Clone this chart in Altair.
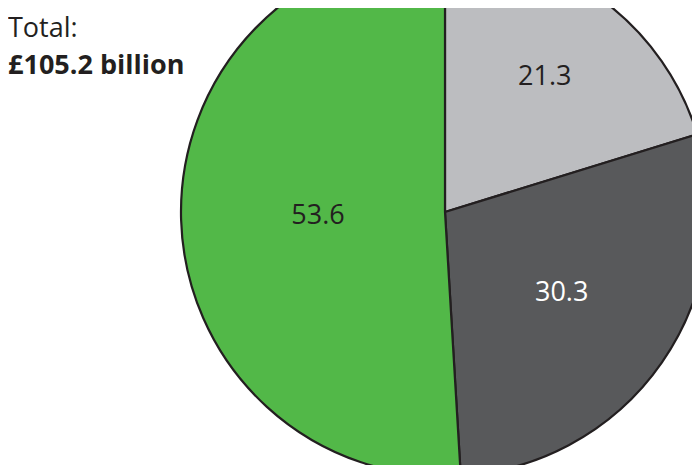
import altair as alt
import pandas as pd

categories = ["A", "B", "C"]
values = [21.3, 30.3, 53.6]
colors = ["#bcbdc0", "#58595b", "#52b848"]
label_colors = ["#231f20", "#ffffff", "#231f20"]
total_text = ["Total:", "£105.2 billion"]

df = pd.DataFrame({
    "cat": categories,
    "value": values,
    "order": list(range(len(values))),
    "label": [f"{v:.1f}" for v in values],
})

FONT = "Open Sans"
CX, CY, R = 437, 204, 264

pie = alt.Chart(df).mark_arc(stroke="#231f20", strokeWidth=2.2).encode(
    theta=alt.Theta("value:Q", stack=True),
    order=alt.Order("order:Q"),
    color=alt.Color("cat:N", scale=alt.Scale(domain=categories, range=colors), legend=None),
    x=alt.value(CX), y=alt.value(CY), radius=alt.value(R),
)

labels = alt.Chart(df).transform_window(
    cum="sum(value)", sort=[alt.SortField("order")], frame=[None, 0]
).transform_calculate(
    mid="datum.cum - datum.value / 2",
    r="datum.cat == 'A' ? 168 : (datum.cat == 'B' ? 142 : 127)",
).mark_text(font=FONT, fontSize=27, baseline="middle", align="center").encode(
    theta=alt.Theta("mid:Q", stack=None),
    text="label:N",
    color=alt.condition("datum.cat == 'B'", alt.value(label_colors[1]), alt.value(label_colors[0])),
    radius=alt.Radius("r:Q", scale=None),
    x=alt.value(CX), y=alt.value(CY),
)

t1 = alt.Chart(pd.DataFrame({"t": [total_text[0]]})).mark_text(
    font=FONT, fontSize=27, align="left", baseline="alphabetic", color="#231f20"
).encode(text="t:N", x=alt.value(0), y=alt.value(29))

t2 = alt.Chart(pd.DataFrame({"t": [total_text[1]]})).mark_text(
    font=FONT, fontSize=27, fontWeight="bold", align="left", baseline="alphabetic", color="#231f20"
).encode(text="t:N", x=alt.value(0), y=alt.value(66))

chart = alt.layer(pie, labels, t1, t2).properties(
    width=684, height=457, padding=0, autosize="none"
).configure_view(stroke=None)

chart.save("out.html", embed_options={"renderer": "svg", "actions": False})
